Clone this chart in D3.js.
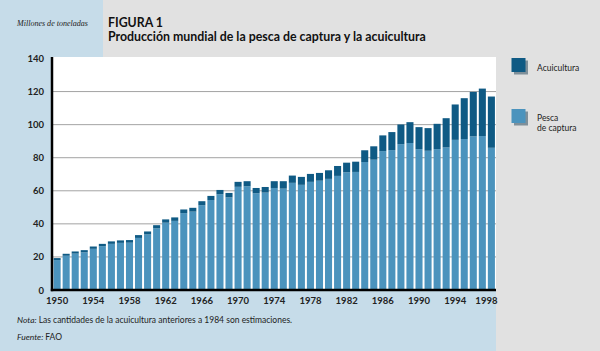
<!DOCTYPE html>
<html><head><meta charset="utf-8">
<script src="https://cdn.jsdelivr.net/npm/d3@7"></script>
<style>html,body{margin:0;padding:0;background:#e1e1e1;}svg{display:block;}</style>
</head><body>
<svg id="c" width="600" height="351"></svg>
<script>
const years = d3.range(1950, 1999);
const captura = [18.1,20.7,22.0,22.8,24.9,26.5,27.9,28.5,28.6,31.5,33.6,37.3,40.7,41.8,46.5,47.4,51.3,54.4,57.9,56.0,62.4,62.7,58.5,58.9,61.7,61.3,64.8,63.6,65.4,66.1,67.2,69.0,71.2,71.4,77.4,78.8,84.0,84.6,88.2,88.9,85.2,84.2,85.2,86.2,90.8,91.3,92.9,93.1,86.0];
const acuicultura = [1.2,1.2,1.3,1.3,1.4,1.4,1.5,1.5,1.6,1.7,1.8,1.9,2.0,2.1,2.2,2.3,2.4,2.5,2.6,2.7,3.0,3.1,3.2,3.4,4.1,4.5,4.4,4.8,4.8,4.7,5.2,6.0,5.8,6.2,7.1,8.1,9.5,10.9,11.9,12.6,13.3,13.7,15.3,17.7,21.4,24.7,26.9,28.7,31.0];
const yTicks = [0,20,40,60,80,100,120,140];
const xTickYears = d3.range(1950, 1999, 4);
const seriesNames = ["Pesca de captura", "Acuicultura"];

const COL_LIGHT = "#4b93bd", COL_DARK = "#0f5a84";
const BG_BLUE = "#c6dce9", BG_GREY = "#e1e1e1";

const svg = d3.select("#c");
const L = 52, R = 496, T = 57, B = 290;

// backgrounds
svg.append("rect").attr("x",0).attr("y",0).attr("width",600).attr("height",351).attr("fill",BG_GREY);
svg.append("rect").attr("x",0).attr("y",0).attr("width",103).attr("height",351).attr("fill",BG_BLUE);
svg.append("rect").attr("x",0).attr("y",B).attr("width",R).attr("height",351-B).attr("fill",BG_BLUE);
svg.append("rect").attr("x",L).attr("y",T).attr("width",R-L).attr("height",B-T).attr("fill","#ffffff");

const x = d3.scaleBand().domain(years).range([L+0.5, R]).paddingInner(0.22).paddingOuter(0.12);
const y = d3.scaleLinear().domain([0,140]).range([B, T+1.5]);

// gridlines
svg.append("g").selectAll("line").data(yTicks.filter(d=>d>0 && d<140)).join("line")
  .attr("x1",L).attr("x2",R).attr("y1",d=>y(d)).attr("y2",d=>y(d))
  .attr("stroke","#a3a3a3").attr("stroke-width",1);

const data = years.map((yr,i)=>({year:yr, captura:captura[i], acuicultura:acuicultura[i]}));
const stack = d3.stack().keys(["captura","acuicultura"])(data);
const colors = {captura:COL_LIGHT, acuicultura:COL_DARK};
svg.append("g").selectAll("g").data(stack).join("g").attr("fill",s=>colors[s.key])
  .selectAll("rect").data(s=>s).join("rect")
  .attr("x",d=>x(d.data.year)).attr("width",x.bandwidth())
  .attr("y",d=>y(d[1])).attr("height",d=>y(d[0])-y(d[1]));

// axes
const font = "Lato, 'Open Sans', sans-serif";
const yAxis = svg.append("g").attr("transform",`translate(${L},0)`)
  .call(d3.axisLeft(y).tickValues(yTicks).tickSize(0).tickPadding(8));
yAxis.select(".domain").remove();
yAxis.selectAll("text").attr("font-family",font).attr("font-size","9.5px").attr("font-weight",700).attr("fill","#222");

const xAxis = svg.append("g").attr("transform",`translate(0,${B})`)
  .call(d3.axisBottom(x).tickValues(xTickYears).tickSize(0).tickPadding(7));
xAxis.select(".domain").remove();
xAxis.selectAll("text").attr("font-family",font).attr("font-size","9.5px").attr("font-weight",700).attr("fill","#222")
  .attr("dx",d=>d===1998?-5:0);

// axis lines
svg.append("line").attr("x1",L).attr("x2",L).attr("y1",T).attr("y2",B+1.2).attr("stroke","#000").attr("stroke-width",2.5);
svg.append("line").attr("x1",L-1.2).attr("x2",R).attr("y1",B).attr("y2",B).attr("stroke","#000").attr("stroke-width",2.5);

function fit(sel, w){ const n=sel.node(); const cur=n.getComputedTextLength(); const fs=parseFloat(sel.attr("font-size")); sel.attr("font-size",(fs*w/cur).toFixed(2)+"px"); }

// titles
svg.append("text").attr("x",17).attr("y",26).attr("font-family","'Liberation Serif', serif").attr("font-style","italic")
  .attr("font-size","8px").attr("fill","#222").text("Millones de toneladas").call(s=>fit(s,71));
svg.append("text").attr("x",108).attr("y",27).attr("font-family",font).attr("font-weight",700)
  .attr("font-size","13px").attr("fill","#111").text("FIGURA 1").call(s=>fit(s,55));
svg.append("text").attr("x",108).attr("y",41).attr("font-family",font).attr("font-weight",700)
  .attr("font-size","12px").attr("fill","#111").text("Producción mundial de la pesca de captura y la acuicultura").call(s=>fit(s,318));

// legend
const leg = [
  {name:seriesNames[1], col:COL_DARK, y:58, lines:["Acuicultura"], ty:71},
  {name:seriesNames[0], col:COL_LIGHT, y:109, lines:["Pesca","de captura"], ty:120.5}
];
leg.forEach(l=>{
  svg.append("rect").attr("x",514).attr("y",l.y+2.5).attr("width",14).attr("height",14).attr("fill","#7f8f99");
  svg.append("rect").attr("x",511.5).attr("y",l.y).attr("width",14).attr("height",14).attr("fill",l.col);
  l.lines.forEach((ln,i)=>svg.append("text").attr("font-family",font).attr("font-size","8.5px").attr("fill","#222")
    .attr("x",537).attr("y",l.ty+i*10.5).text(ln));
});

// notes
const n1 = svg.append("text").attr("x",17).attr("y",323).attr("font-family",font).attr("font-size","9px").attr("fill","#222");
n1.append("tspan").attr("font-style","italic").text("Nota: ");
n1.append("tspan").text("Las cantidades de la acuicultura anteriores a 1984 son estimaciones.");
fit(n1, 275);
const n2 = svg.append("text").attr("x",17).attr("y",340).attr("font-family",font).attr("font-size",n1.attr("font-size")).attr("fill","#222");
n2.append("tspan").attr("font-style","italic").text("Fuente: ");
n2.append("tspan").text("FAO");
</script>
</body></html>
